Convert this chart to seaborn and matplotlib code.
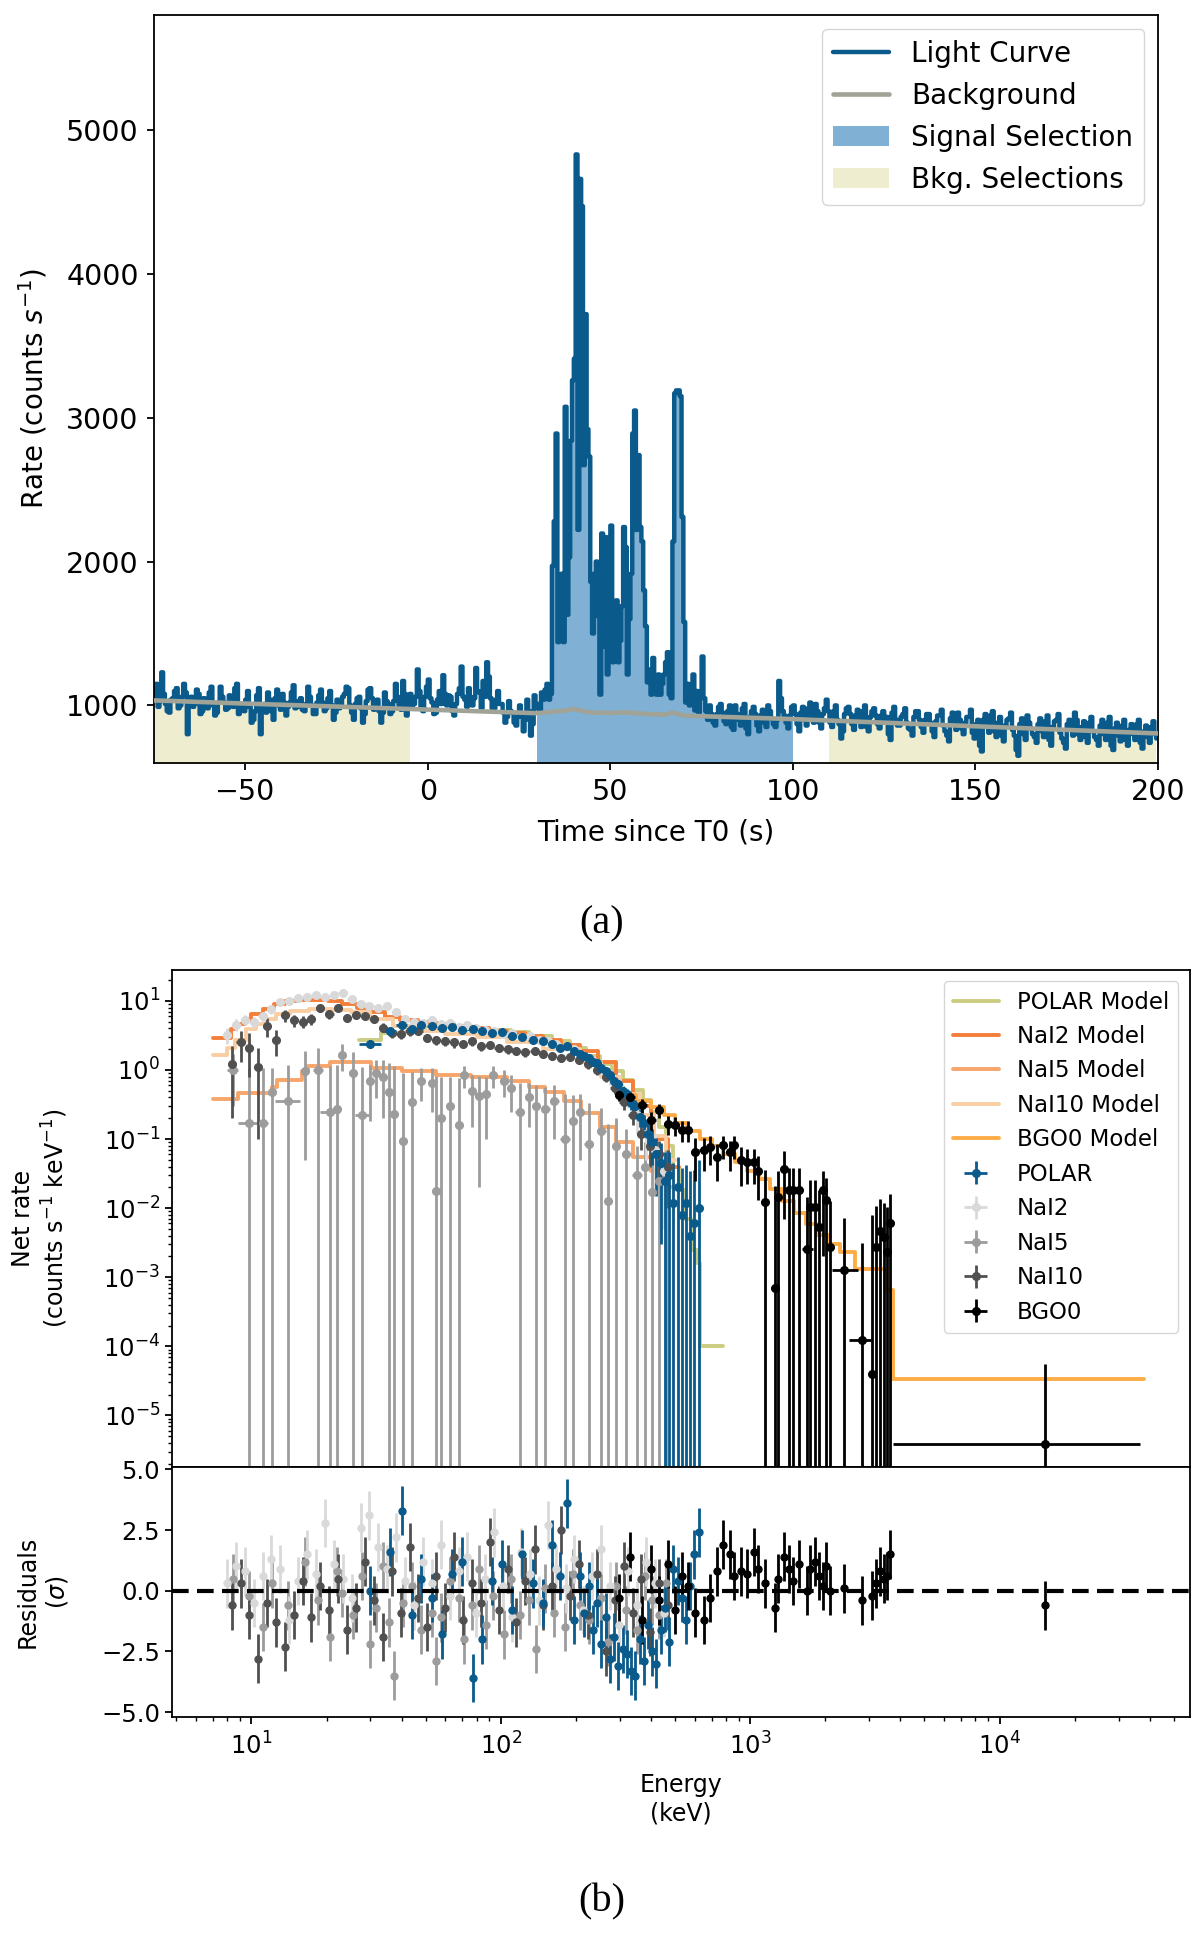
import numpy as np
import seaborn as sns
import matplotlib
matplotlib.use("Agg")
import matplotlib.pyplot as plt
from matplotlib.ticker import LogLocator, NullFormatter

sns.set_style("ticks", rc={'axes.edgecolor': 'black', 'xtick.color': 'black',
                           'ytick.color': 'black', 'text.color': 'black',
                           'axes.labelcolor': 'black'})
plt.rcParams.update({
    'font.family': ['DejaVu Sans'],
    'axes.linewidth': 1.3,
    'xtick.major.width': 1.3, 'ytick.major.width': 1.3,
    'xtick.minor.width': 1.0, 'ytick.minor.width': 1.0,
    'xtick.major.size': 5, 'ytick.major.size': 5,
    'xtick.minor.size': 3, 'ytick.minor.size': 3,
})

# ---------------- (a) light curve ----------------
lc_t0 = -75.0   # start of first bin (s)
lc_dt = 0.5     # bin width (s)
# one row = 10 s
lc_rate = [
    1060, 1150, 990, 1030, 1230, 1080, 1010, 960, 950, 1040, 1050, 1100, 1120, 980, 1000, 1060, 1150, 1090, 800, 1020,
    1060, 990, 1010, 1110, 1080, 940, 960, 1050, 1040, 980, 1090, 1130, 1000, 930, 950, 1020, 1130, 1060, 1020, 970,
    980, 1070, 1060, 990, 1120, 1150, 940, 1000, 1010, 960, 1040, 1100, 990, 880, 900, 960, 1070, 1120, 800, 990,
    1010, 950, 1090, 1040, 960, 900, 1050, 1110, 1000, 970, 1080, 1020, 930, 990, 1020, 1090, 1140, 980, 990, 1030,
    1050, 970, 960, 1010, 1130, 1060, 1000, 940, 940, 1020, 1070, 1110, 1020, 960, 980, 1050, 1100, 1000, 900, 950,
    1040, 980, 990, 1060, 1080, 1130, 1120, 1000, 950, 900, 1010, 1050, 1060, 980, 880, 940, 1030, 1110, 1120, 1050,
    970, 1020, 1040, 960, 880, 950, 1090, 1030, 1010, 940, 960, 1030, 1150, 1060, 1000, 970, 1170, 1080, 930, 1010,
    1080, 1000, 1010, 1060, 1250, 1100, 990, 960, 1060, 1130, 1180, 1050, 1020, 940, 950, 1040, 1100, 1010, 1210, 1080,
    1000, 1070, 1060, 960, 930, 1010, 1080, 1120, 1270, 1060, 1040, 990, 1120, 1060, 1000, 1050, 1260, 1100, 1090, 980,
    1170, 1060, 1300, 1200, 1050, 980, 980, 1040, 1100, 1010, 1010, 950, 880, 920, 1030, 960, 950, 880, 860, 920,
    1000, 930, 820, 900, 1040, 960, 790, 870, 1070, 980, 1010, 960, 1090, 1040, 1110, 1150, 1040, 1080, 1970, 2280,
    2890, 1440, 1750, 1915, 1440, 3076, 1630, 2030, 2840, 3260, 3410, 4830, 2220, 4660, 4470, 2670, 3720, 2920, 2730, 1860,
    1500, 1915, 2000, 1620, 1075, 2195, 1410, 2170, 1215, 1720, 2250, 1300, 1500, 1730, 1300, 1450, 1690, 2240, 2100, 1215,
    1600, 1915, 2890, 3050, 2220, 2740, 2240, 2140, 1800, 1550, 1160, 1250, 1075, 1330, 1200, 1075, 1215, 1075, 1150, 1215,
    1300, 1370, 1075, 1050, 2140, 3170, 3190, 3190, 3150, 2310, 1580, 1020, 1150, 1000, 1100, 1215, 965, 1100, 950, 1050,
    1340, 1050, 960, 900, 1000, 940, 880, 860, 940, 990, 1010, 950, 890, 870, 960, 1000, 850, 830, 1000, 940,
    900, 860, 980, 1010, 840, 800, 920, 960, 990, 940, 860, 820, 930, 970, 880, 850, 1000, 960, 910, 870,
    850, 900, 1170, 1050, 960, 930, 880, 840, 930, 990, 1000, 940, 870, 820, 950, 990, 900, 860, 980, 1020,
    920, 880, 1010, 960, 880, 840, 940, 980, 1040, 960, 880, 850, 960, 1000, 900, 870, 770, 820, 940, 980,
    990, 940, 870, 830, 930, 970, 890, 850, 960, 1000, 850, 820, 920, 960, 980, 930, 870, 840, 930, 960,
    880, 920, 800, 760, 950, 990, 900, 860, 860, 920, 940, 980, 880, 840, 830, 790, 920, 960, 960, 900,
    850, 810, 900, 940, 940, 880, 820, 780, 890, 930, 930, 970, 860, 820, 790, 750, 910, 950, 870, 830,
    950, 900, 840, 800, 880, 920, 920, 970, 810, 770, 870, 900, 720, 680, 900, 940, 850, 810, 930, 960,
    820, 780, 880, 920, 790, 750, 860, 900, 910, 950, 830, 790, 690, 650, 870, 910, 800, 760, 930, 880,
    840, 800, 780, 740, 870, 910, 820, 780, 890, 930, 760, 720, 850, 890, 900, 940, 810, 770, 740, 700,
    870, 900, 830, 790, 950, 900, 800, 760, 850, 890, 780, 740, 880, 920, 820, 780, 760, 720, 860, 900,
    800, 760, 880, 920, 720, 690, 840, 880, 790, 750, 860, 900, 760, 720, 830, 870, 800, 760, 870, 900,
    740, 700, 820, 860, 780, 740, 850, 890, 800, 770,
]
bkg_time = [-75, -50, -25, 0, 25, 30, 35, 37, 40, 42, 45, 50, 54, 60, 65, 67, 70, 75, 100, 150, 200]
bkg_rate = [1035, 1013, 992, 971, 950, 946, 958, 962, 975, 963, 950, 948, 952, 940, 936, 950, 930, 925, 905, 855, 805]
sig_interval = (30, 100)
bkg_intervals = [(-75, -5), (110, 200)]

# ---------------- (b) spectrum ----------------
nai_halfwidth = [0.3, 0.35, 0.35, 0.4, 0.45, 0.45, 0.5, 0.55, 0.6, 0.65,
                 0.7, 0.8, 0.8, 0.9, 1.0, 1.1, 1.2, 1.3, 1.4, 1.5,
                 1.6, 1.8, 1.9, 2.1, 2.3, 2.5, 2.7, 2.9, 3.2, 3.4,
                 3.7, 4.0, 4.4, 4.8, 5.2, 5.6, 6.1, 6.6, 7.2, 7.8,
                 8.5, 9.2, 10, 11, 12, 13, 14, 15, 16, 18]

nai2_energy = [8.0, 8.7, 9.4, 10.2, 11.1, 12.0, 13.0, 14.2, 15.4, 16.7,
               18.1, 19.7, 21.4, 23.2, 25.2, 27.4, 29.7, 32.3, 35.0, 38.0,
               41.3, 44.8, 48.7, 52.9, 57.4, 62.3, 67.7, 73.5, 79.8, 86.6,
               94.1, 102, 111, 120, 131, 142, 154, 167, 182, 197,
               214, 233, 253, 274, 298, 324, 351, 381, 414, 450]
nai2_rate = [3.2, 4.5, 5.3, 5.0, 6.0, 7.5, 9.5, 10.0, 11.0, 11.5,
             12.0, 11.5, 12.0, 13.0, 10.5, 9.0, 8.5, 8.0, 8.5, 7.0,
             5.5, 5.0, 4.8, 5.2, 4.6, 4.8, 4.2, 4.4, 4.0, 3.8,
             3.7, 3.3, 3.4, 3.0, 3.1, 2.7, 2.6, 2.4, 2.2, 2.0,
             1.6, 1.4, 1.05, 0.8, 0.6, 0.4, 0.22, 0.12, 0.07, 0.035]
nai2_err = [0.8, 0.9, 0.9, 0.9, 0.9, 1.0, 1.0, 1.0, 1.0, 1.0,
            1.0, 1.0, 1.0, 1.0, 0.9, 0.8, 0.8, 0.7, 0.7, 0.7,
            0.6, 0.5, 0.5, 0.5, 0.5, 0.5, 0.4, 0.4, 0.4, 0.4,
            0.4, 0.3, 0.3, 0.3, 0.3, 0.3, 0.3, 0.3, 0.3, 0.3,
            0.25, 0.25, 0.2, 0.2, 0.15, 0.12, 0.1, 0.07, 0.05, 0.03]
nai2_resid = [0.3, 1.0, 0.8, -0.5, 0.6, 1.3, 0.9, -1.2, 0.4, 1.5,
              0.7, 2.8, 1.1, 0.5, -0.3, 2.6, 3.1, 1.8, 0.9, 2.2,
              0.4, -0.6, 1.2, 0.3, 1.9, -0.2, 0.8, 1.4, -0.9, 0.5,
              2.4, 0.2, -1.1, 1.6, 0.7, -0.4, 2.7, 0.9, 0.1, 1.3,
              -0.8, 0.6, 1.7, 0.2, -1.4, 0.8, -0.6, 1.2, 0.3, -0.9]

nai10_energy = [8.35, 9.05, 9.8, 10.65, 11.55, 12.5, 13.6, 14.8, 16.05, 17.4,
                18.9, 20.55, 22.3, 24.2, 26.3, 28.55, 31.0, 33.65, 36.5, 39.65,
                43.05, 46.75, 50.8, 55.15, 59.85, 65.0, 70.6, 76.65, 83.2, 90.35,
                98.0, 106.5, 115.5, 125.5, 136.5, 148, 160.5, 174.5, 189.5, 205.5,
                223.5, 243, 263.5, 286, 311, 337.5, 366, 397.5, 432, 470]
nai10_rate = [1.2, 2.5, 2.1, 1.1, 4.3, 2.7, 6.2, 5.2, 5.0, 5.5,
              7.8, 6.4, 8.0, 5.7, 6.2, 6.0, 5.4, 4.1, 3.4, 3.3,
              3.6, 3.7, 2.9, 2.7, 2.6, 2.5, 2.4, 2.6, 2.2, 2.3,
              2.1, 2.0, 1.9, 1.8, 1.9, 1.7, 1.6, 1.5, 1.55, 1.4,
              1.2, 1.0, 0.8, 0.55, 0.34, 0.22, 0.12, 0.08, 0.06, 0.04]
nai10_err = [1.0, 1.2, 1.3, 1.0, 1.3, 1.1, 1.2, 1.0, 1.0, 1.0,
             1.0, 0.9, 0.9, 0.8, 0.8, 0.7, 0.7, 0.6, 0.5, 0.5,
             0.5, 0.5, 0.4, 0.4, 0.4, 0.4, 0.35, 0.35, 0.3, 0.3,
             0.3, 0.3, 0.25, 0.25, 0.25, 0.2, 0.2, 0.2, 0.2, 0.2,
             0.18, 0.15, 0.13, 0.1, 0.08, 0.06, 0.05, 0.04, 0.035, 0.03]
nai10_resid = [-0.6, 0.3, -1.0, -2.8, -0.5, -1.3, -2.3, -1.0, 0.4, -1.1,
               0.2, -0.8, 0.5, -1.6, -0.7, 1.2, -0.4, -1.9, 0.8, -0.9,
               1.8, -0.3, -1.5, 0.6, -0.7, 1.4, -1.2, 0.3, -0.5, 2.0,
               -0.8, 0.9, -1.3, 0.4, 1.7, -0.6, 0.2, 2.5, -0.2, 1.1,
               -1.0, 0.7, -2.5, -0.4, 1.0, -0.9, 0.5, -1.7, 0.3, -0.6]

nai5_energy = [8.4, 9.8, 11.1, 12.1, 14.0, 16.4, 18.5, 20.6, 22.0, 23.1,
               25.5, 27.7, 29.8, 31.7, 33.8, 35.6, 37.4, 40.6, 44.2, 47.9,
               52.9, 54.8, 57.6, 62.5, 67.9, 71.4, 76.3, 81.5, 87.1, 93.1,
               103, 110, 119, 130, 139, 151, 164, 181, 194, 207,
               225, 253, 270, 289, 319, 353, 377, 403, 430, 458]
nai5_halfwidth = [0.4, 1.0, 0.5, 0.5, 1.6, 0.5, 0.9, 1.8, 0.5, 0.5,
                  0.9, 1.8, 0.9, 0.9, 0.9, 0.9, 0.9, 1.5, 1.7, 1.8,
                  1.0, 0.9, 1.4, 2.4, 2.5, 1.7, 2.4, 2.6, 2.8, 3.0,
                  4.0, 3.5, 4.5, 5.0, 4.5, 6.0, 6.5, 8.0, 6.0, 6.5,
                  9.0, 10, 8.0, 10, 14, 16, 12, 12, 13, 25]
nai5_rate = [1.0, 0.17, 0.17, 0.48, 0.36, 0.95, 1.0, 0.25, 0.27, 1.65,
             0.9, 0.22, 0.68, 0.89, 0.8, 0.48, 0.23, 0.094, 0.34, 0.7,
             0.65, 0.0176, 0.2, 0.3, 0.16, 0.85, 0.5, 0.42, 0.45, 0.85,
             0.7, 0.55, 0.25, 0.4, 0.3, 0.27, 0.35, 0.1, 0.18, 0.25,
             0.085, 0.13, 0.0126, 0.08, 0.06, 0.03, 0.04, 0.017, 0.025, 0.03]
nai5_err = [0.7, 0.9, 0.9, 0.6, 0.8, 0.9, 1.1, 0.9, 0.9, 0.7,
            0.9, 0.9, 0.5, 0.5, 0.6, 0.8, 0.9, 0.8, 0.6, 0.35,
            0.4, 0.8, 0.6, 0.5, 0.6, 0.3, 0.35, 0.4, 0.35, 0.3,
            0.3, 0.3, 0.4, 0.25, 0.3, 0.3, 0.25, 0.35, 0.25, 0.2,
            0.25, 0.15, 0.15, 0.12, 0.08, 0.05, 0.05, 0.04, 0.04, 0.04]
nai5_resid = [0.5, -0.2, -1.5, 0.3, -0.6, 1.2, -0.4, -1.9, 0.8, -0.1,
              -1.0, 0.6, -2.2, -0.7, 1.0, -1.3, -3.5, -0.5, 0.2, -1.6,
              -0.9, -2.9, -1.1, 0.4, -0.3, -2.0, -0.6, 0.9, -1.4, -0.2,
              -1.8, 0.5, -1.0, -0.4, -2.4, 0.1, -0.9, -1.5, 0.7, -0.6,
              -1.2, -0.3, -2.1, 0.2, -0.8, -1.6, 0.6, -0.4, -1.0, 0.3]

polar_energy = [30, 36, 40, 44, 48, 53, 58, 64, 70, 77,
                84, 92, 101, 111, 122, 134, 147, 161, 172, 184,
                196, 208, 216, 225, 234, 243, 253, 263, 274, 285,
                296, 308, 320, 333, 346, 360, 374, 389, 405, 421,
                438, 455, 473, 492, 512, 532, 553, 575, 598, 622]
polar_halfwidth = [3, 2, 2, 2, 2, 2.5, 2.5, 3, 3, 3.5,
                   3.5, 4, 4.5, 5, 5.5, 6, 6.5, 7, 5.5, 6,
                   6, 4, 4, 4.5, 4.5, 4.5, 5, 5, 5.5, 5.5,
                   6, 6, 6.5, 6.5, 7, 7, 7.5, 7.5, 8, 8,
                   8.5, 9, 9, 9.5, 10, 10, 10.5, 11, 11.5, 12]
polar_rate = [2.4, 3.6, 4.4, 3.9, 4.5, 4.3, 4.0, 4.2, 3.8, 3.9,
              3.6, 3.4, 3.5, 3.1, 3.0, 2.7, 2.6, 2.4, 2.1, 2.2,
              1.9, 1.7, 1.6, 1.5, 1.3, 1.25, 1.05, 0.95, 0.85, 0.7,
              0.62, 0.5, 0.45, 0.33, 0.3, 0.21, 0.17, 0.12, 0.09, 0.06,
              0.045, 0.025, 0.03, 0.012, 0.02, 0.008, 0.012, 0.004, 0.006, 0.01]
polar_err = [0.3, 0.4, 0.4, 0.4, 0.4, 0.35, 0.35, 0.35, 0.3, 0.3,
             0.3, 0.3, 0.3, 0.25, 0.25, 0.25, 0.2, 0.2, 0.2, 0.2,
             0.18, 0.17, 0.16, 0.15, 0.14, 0.13, 0.12, 0.11, 0.1, 0.09,
             0.085, 0.08, 0.075, 0.07, 0.065, 0.06, 0.055, 0.05, 0.048, 0.045,
             0.042, 0.04, 0.035, 0.033, 0.035, 0.03, 0.03, 0.03, 0.03, 0.04]
polar_resid = [0.0, 1.6, 3.3, -1.0, 0.5, -0.3, -1.8, 0.7, 1.2, -3.6,
               -2.0, 0.4, 1.1, -0.8, 1.5, 0.3, -0.5, 1.9, 0.6, 3.6,
               -1.2, 0.6, -0.9, 0.2, -1.6, -0.5, -2.2, -1.1, -2.8, -1.9,
               -3.1, -2.4, -2.6, -3.3, -3.5, -2.0, -2.9, -1.4, -2.5, -3.0,
               -1.6, -0.7, -2.1, 0.9, 0.4, -0.3, -1.2, 0.2, 1.5, 2.4]

bgo_energy = [299, 331, 367, 402, 432, 468, 501, 532, 565, 600,
              650, 691, 734, 780, 828, 862, 916, 973, 1033, 1075,
              1142, 1263, 1288, 1369, 1425, 1483, 1563, 1694, 1741, 1813,
              1888, 1964, 2020, 2085, 2371, 2818, 3090, 3183, 3311, 3450,
              3548, 3634, 15240]
bgo_xlo = [12, 15, 17, 18, 14, 17, 15, 15, 17, 18,
           25, 20, 22, 24, 25, 15, 28, 28, 30, 20,
           35, 30, 20, 35, 28, 30, 40, 85, 25, 30,
           35, 35, 30, 30, 240, 320, 40, 45, 50, 55,
           45, 40, 11500]
bgo_xhi = [12, 15, 17, 18, 14, 17, 15, 15, 17, 18,
           25, 20, 22, 24, 25, 15, 28, 28, 30, 20,
           35, 30, 20, 35, 28, 30, 40, 85, 25, 30,
           35, 35, 30, 30, 340, 230, 40, 45, 50, 55,
           45, 40, 21300]
bgo_rate = [0.44, 0.40, 0.31, 0.19, 0.26, 0.165, 0.16, 0.135, 0.135, 0.065,
            0.069, 0.077, 0.055, 0.082, 0.065, 0.082, 0.049, 0.047, 0.047, 0.035,
            0.0122, 7.1e-4, 0.0144, 0.037, 0.018, 0.018, 0.018, 2.6e-3, 0.0103, 0.0103,
            5.3e-3, 0.018, 0.0129, 2.7e-3, 1.26e-3, 1.25e-4, 4e-5, 2.7e-3, 4.7e-3, 3.8e-3,
            2.3e-3, 6e-3, 3.9e-6]
bgo_err = [0.09, 0.08, 0.07, 0.06, 0.06, 0.05, 0.05, 0.045, 0.045, 0.04,
           0.035, 0.035, 0.03, 0.03, 0.03, 0.03, 0.028, 0.025, 0.025, 0.022,
           0.023, 0.02, 0.02, 0.03, 0.02, 0.02, 0.02, 0.012, 0.015, 0.015,
           0.013, 0.016, 0.014, 0.01, 0.006, 0.003, 0.008, 0.008, 0.009, 0.008,
           0.008, 0.01, 5.1e-5]
bgo_resid = [-0.3, 1.4, -1.2, 0.9, -0.4, 1.1, -0.8, 0.6, 0.2, -0.9,
             -1.2, -0.3, 0.8, 1.9, 1.5, 0.6, 0.8, 0.7, 1.6, 0.9,
             0.3, -0.7, 0.5, 1.4, 0.9, 0.4, 1.1, 0.0, 0.9, 1.2,
             0.6, 0.2, 1.0, 0.0, 0.1, -0.4, -0.2, 0.3, 0.8, 0.5,
             0.6, 1.5, -0.6]
resid_sigma = 1.0

# folded model step curves (bin edges, value per bin)
polar_model_edges = [27, 33, 40, 50, 60, 75, 90, 110, 130, 160, 190, 220, 250, 280,
                     310, 340, 370, 400, 430, 460, 490, 520, 550, 580, 610, 630, 780]
polar_model = [2.7, 3.4, 4.2, 4.4, 4.3, 4.1, 3.8, 3.5, 3.1, 2.6, 2.1, 1.6, 1.2,
               0.95, 0.72, 0.52, 0.37, 0.25, 0.15, 0.08, 0.04, 0.018, 0.007, 0.0025,
               0.0016, 0.0001]
nai2_model_edges = [7.0, 8.25, 8.7, 9.4, 10.0, 11.1, 12.3, 13.6, 15.5, 20.2, 23.1, 26.4,
                    30.1, 34.4, 39.3, 46.4, 54.8, 65, 76, 90, 106, 125, 148, 175, 207,
                    245, 290, 340, 400, 470, 520]
nai2_model = [2.9, 3.9, 4.6, 5.4, 6.4, 7.5, 8.9, 9.8, 10.2, 9.8, 9.0, 8.0, 6.8, 5.9,
              5.3, 4.9, 4.6, 4.3, 4.0, 3.7, 3.4, 3.1, 2.7, 2.3, 1.85, 1.3, 0.7, 0.3,
              0.1, 0.04]
nai5_model_edges = [7.0, 8.8, 12.1, 12.7, 15.9, 16.8, 20.7, 30.1, 40, 55, 76, 106, 130,
                    150, 180, 210, 250, 290, 340, 400, 450, 500]
nai5_model = [0.38, 0.47, 0.57, 0.72, 0.95, 1.15, 1.3, 1.05, 0.95, 0.85, 0.8, 0.68,
              0.57, 0.48, 0.36, 0.24, 0.15, 0.09, 0.055, 0.035, 0.02]
nai10_model_edges = [7.0, 8.0, 8.6, 9.5, 10.4, 11.3, 12.6, 14.3, 17, 21, 25, 30, 37, 47,
                     60, 80, 106, 148, 207, 252, 300, 360, 410, 460, 500]
nai10_model = [1.65, 2.1, 2.75, 3.85, 4.6, 5.4, 6.4, 7.1, 7.5, 7.3, 6.8, 5.4, 4.3, 3.6,
               3.3, 3.0, 2.5, 2.0, 1.3, 0.8, 0.45, 0.22, 0.11, 0.05]
bgo_model_edges = [300, 350, 400, 450, 500, 560, 630, 700, 780, 870, 970, 1080, 1200,
                   1340, 1500, 1670, 1860, 2080, 2300, 2640, 3460, 3730, 38000]
bgo_model = [0.44, 0.36, 0.29, 0.22, 0.17, 0.13, 0.10, 0.078, 0.06, 0.046, 0.035, 0.026,
             0.019, 0.0125, 0.0085, 0.0058, 0.0041, 0.003, 0.0023, 0.0013, 0.00065, 3.4e-5]

c_lc = "#0a5a8c"
c_bkg_line = "#a0a396"
c_sig_fill = "#80b0d4"
c_bkg_fill = "#eeedd0"

fig = plt.figure(figsize=(12, 19.34), dpi=100)

# ---- panel (a)
ax = fig.add_axes([0.1283, 0.6055, 0.8367, 0.3868])
t = lc_t0 + lc_dt * np.arange(len(lc_rate))
r = np.array(lc_rate, dtype=float)

m = (t >= sig_interval[0]) & (t <= sig_interval[1])
ax.fill_between(t[m], 0, r[m], step='post', color=c_sig_fill, lw=0,
                label="Signal Selection", zorder=1)
for i, (lo, hi) in enumerate(bkg_intervals):
    m = (t >= lo) & (t <= hi)
    ax.fill_between(t[m], 0, r[m], step='post', color=c_bkg_fill, lw=0,
                    label="Bkg. Selections" if i == 0 else None, zorder=1)

sns.lineplot(x=t, y=r, drawstyle="steps-post", color=c_lc, lw=3.2,
             label="Light Curve", ax=ax, zorder=2)
sns.lineplot(x=bkg_time, y=bkg_rate, color=c_bkg_line, lw=3.3,
             label="Background", ax=ax, zorder=3)

ax.set_xlim(-75, 200)
ax.set_ylim(600, 5800)
ax.set_xticks([-50, 0, 50, 100, 150, 200])
ax.set_yticks([1000, 2000, 3000, 4000, 5000])
ax.tick_params(labelsize=20.5, pad=6)
ax.set_xlabel("Time since T0 (s)", fontsize=20, labelpad=9)
ax.set_ylabel("Rate (counts $s^{-1}$)", fontsize=20)
ax.yaxis.set_label_coords(-0.104, 0.5)
h, l = ax.get_legend_handles_labels()
order = ["Light Curve", "Background", "Signal Selection", "Bkg. Selections"]
ax.legend([h[l.index(k)] for k in order], order, loc="upper right", fontsize=20)

# ---- panel (b)
ax_sp = fig.add_axes([0.1433, 0.2415, 0.8483, 0.2570])
ax_res = fig.add_axes([0.1433, 0.1122, 0.8483, 0.1293], sharex=ax_sp)
ax_sp.set_xscale("log")
ax_sp.set_yscale("log")

detectors = {
    "POLAR": (polar_energy, polar_halfwidth, polar_halfwidth, polar_rate, polar_err, polar_resid, "#0a5a8c"),
    "NaI2": (nai2_energy, nai_halfwidth, nai_halfwidth, nai2_rate, nai2_err, nai2_resid, "#d9d9d9"),
    "NaI5": (nai5_energy, nai5_halfwidth, nai5_halfwidth, nai5_rate, nai5_err, nai5_resid, "#9c9c9c"),
    "NaI10": (nai10_energy, nai_halfwidth, nai_halfwidth, nai10_rate, nai10_err, nai10_resid, "#505050"),
    "BGO0": (bgo_energy, bgo_xlo, bgo_xhi, bgo_rate, bgo_err, bgo_resid, "#000000"),
}
models = [
    ("POLAR Model", polar_model_edges, polar_model, "#cbcd82"),
    ("NaI2 Model", nai2_model_edges, nai2_model, "#f47f3a"),
    ("NaI5 Model", nai5_model_edges, nai5_model, "#f7a66b"),
    ("NaI10 Model", nai10_model_edges, nai10_model, "#f9cea3"),
    ("BGO0 Model", bgo_model_edges, bgo_model, "#fdad48"),
]

# models underneath, data on top
for name, edges, vals, col in models:
    sns.lineplot(x=edges, y=list(vals) + [vals[-1]], drawstyle="steps-post",
                 color=col, lw=2.8, label=name, ax=ax_sp, zorder=2)

for name in ["NaI5", "NaI2", "NaI10", "POLAR", "BGO0"]:
    e, xlo, xhi, rate, err, res, col = detectors[name]
    ax_sp.errorbar(e, rate, xerr=[xlo, xhi], yerr=err, fmt='o', ms=5.5, color=col,
                   elinewidth=2, capsize=0, label=name, zorder=3)
    ax_res.errorbar(e, res, yerr=resid_sigma, fmt='o', ms=5, color=col,
                    elinewidth=2, capsize=0, zorder=2)

ax_sp.set_xlim(4.8, 5.8e4)
ax_sp.set_ylim(1.8e-6, 28)
ax_sp.yaxis.set_major_locator(LogLocator(base=10, numticks=15))
ax_sp.yaxis.set_minor_locator(LogLocator(base=10, subs=np.arange(2, 10), numticks=15))
ax_sp.yaxis.set_minor_formatter(NullFormatter())
ax_sp.tick_params(labelbottom=False, labelsize=17.5)
ax_sp.set_xlabel("")
ax_sp.set_ylabel("Net rate\n(counts s$^{-1}$ keV$^{-1}$)", fontsize=17)
ax_sp.yaxis.set_label_coords(-0.1, 0.5)

h, l = ax_sp.get_legend_handles_labels()
order = ["POLAR Model", "NaI2 Model", "NaI5 Model", "NaI10 Model", "BGO0 Model",
         "POLAR", "NaI2", "NaI5", "NaI10", "BGO0"]
ax_sp.legend([h[l.index(k)] for k in order], order, loc="upper right", fontsize=16.5)

ax_res.axhline(0, color="black", ls="--", lw=3, dashes=(4, 2), zorder=4)
ax_res.set_ylim(-5.2, 5.1)
ax_res.set_yticks([-5.0, -2.5, 0.0, 2.5, 5.0])
ax_res.xaxis.set_major_locator(LogLocator(base=10, numticks=10))
ax_res.xaxis.set_minor_locator(LogLocator(base=10, subs=np.arange(2, 10), numticks=10))
ax_res.xaxis.set_minor_formatter(NullFormatter())
ax_res.tick_params(labelsize=17.5)
ax_res.tick_params(axis="x", pad=6)
ax_res.set_xlabel("Energy\n(keV)", fontsize=17, labelpad=10)
ax_res.set_ylabel("Residuals\n($\\sigma$)", fontsize=17)
ax_res.yaxis.set_label_coords(-0.1, 0.5)

fig.text(0.5017, 0.5225, "(a)", family="Liberation Serif", fontsize=29,
         ha="center", va="center")
fig.text(0.5017, 0.0165, "(b)", family="Liberation Serif", fontsize=29,
         ha="center", va="center")

fig.savefig("out.png", dpi=100)
